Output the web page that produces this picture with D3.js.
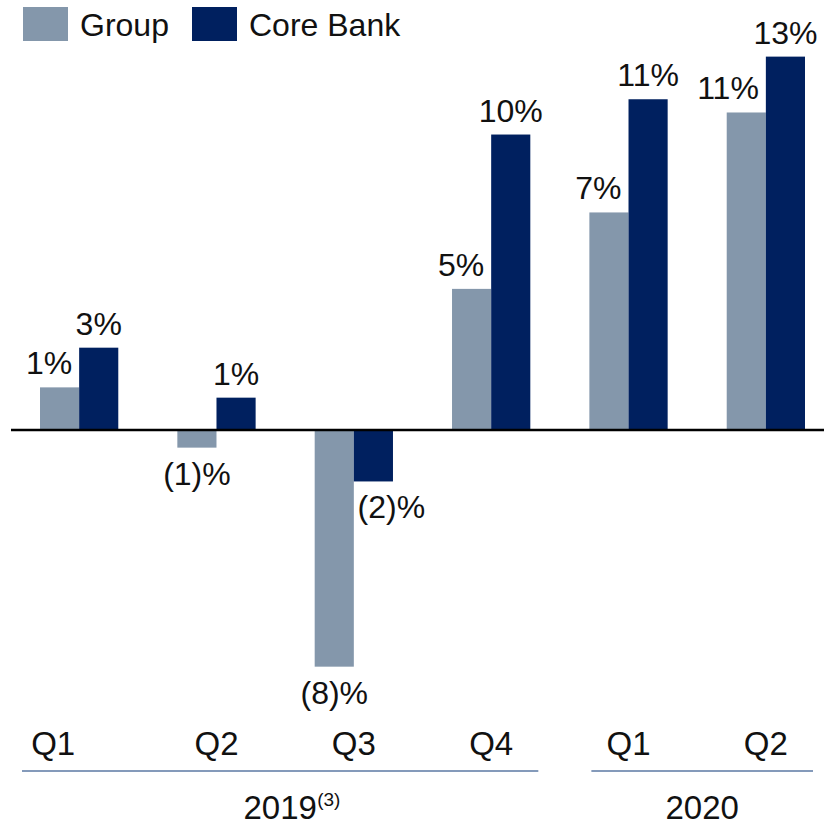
<!DOCTYPE html>
<html>
<head>
<meta charset="utf-8">
<script src="https://cdn.jsdelivr.net/npm/d3@7"></script>
<style>
    html, body { margin: 0; padding: 0; background: #fff; }
    svg { display: block; font-family: "Liberation Sans", Arial, sans-serif; }
</style>
</head>
<body>
<svg id="svg" width="824" height="826"></svg>
<script>
// data (percent)
const quarters = ['Q1', 'Q2', 'Q3', 'Q4', 'Q1', 'Q2'];
const years = [
    { label: '2019', note: '(3)', from: 0, to: 3 },
    { label: '2020', note: '', from: 4, to: 5 }
];
const seriesNames = ['Group', 'Core Bank'];
const groupValues = [1.45, -0.6, -8.05, 4.8, 7.4, 10.8];
const coreValues = [2.8, 1.1, -1.75, 10.05, 11.25, 12.7];
const groupLabels = ['1%', '(1)%', '(8)%', '5%', '7%', '11%'];
const coreLabels = ['3%', '1%', '(2)%', '10%', '11%', '13%'];

const colors = { 'Group': '#8497ab', 'Core Bank': '#00205f' };
const fontSize = 32;

const svg = d3.select('#svg');

const x0 = d3.scaleBand()
    .domain(d3.range(quarters.length))
    .range([40, 805])
    .paddingInner(0.43)
    .paddingOuter(0);

const x1 = d3.scaleBand()
    .domain(seriesNames)
    .range([0, x0.bandwidth()]);

// 0 sits at y=430
const y = d3.scaleLinear()
    .domain([-9, 14])
    .range([430 + 9 * 29.4, 430 - 14 * 29.4]);

const rows = quarters.map((q, i) => ({
    i,
    values: [
        { key: 'Group', v: groupValues[i], label: groupLabels[i] },
        { key: 'Core Bank', v: coreValues[i], label: coreLabels[i] }
    ]
}));

const g = svg.append('g');

const cat = g.selectAll('g.cat')
    .data(rows)
    .join('g')
    .attr('class', 'cat')
    .attr('transform', d => `translate(${x0(d.i)},0)`);

cat.selectAll('rect')
    .data(d => d.values)
    .join('rect')
    .attr('x', d => x1(d.key))
    .attr('width', x1.bandwidth())
    .attr('y', d => y(Math.max(0, d.v)))
    .attr('height', d => Math.abs(y(d.v) - y(0)))
    .attr('fill', d => colors[d.key]);

// value labels
cat.each(function (row) {
    const sel = d3.select(this);
    const gv = row.values[0], cv = row.values[1];
    row.values.forEach(d => {
        let xPos = x1(d.key) + x1.bandwidth() / 2;
        let anchor = 'middle';
        let yPos;
        if (d.v >= 0) {
            yPos = y(d.v) - 13;
            if (d.key === 'Group') {
                // sits left, next to the taller core bar
                xPos = x1(d.key) + x1.bandwidth() - 7;
                anchor = 'end';
            }
        } else {
            yPos = y(d.v) + 37;
            if (d.key === 'Core Bank' && gv.v < cv.v) xPos += 18;
        }
        sel.append('text')
            .attr('x', xPos)
            .attr('y', yPos)
            .attr('text-anchor', anchor)
            .attr('font-size', fontSize)
            .attr('fill', '#111')
            .text(d.label);
    });
});

// zero line
g.append('line')
    .attr('x1', 11)
    .attr('x2', 824)
    .attr('y1', y(0))
    .attr('y2', y(0))
    .attr('stroke', '#000')
    .attr('stroke-width', 2.5);

// quarter labels
g.selectAll('text.q')
    .data(quarters)
    .join('text')
    .attr('class', 'q')
    .attr('x', (d, i) => x0(i) + x0.bandwidth() / 2 - (i === 0 ? 26 : 0))
    .attr('y', 755)
    .attr('text-anchor', 'middle')
    .attr('font-size', 33)
    .attr('fill', '#111')
    .text(d => d);

// year brackets
const yearG = g.selectAll('g.year')
    .data(years)
    .join('g')
    .attr('class', 'year');

const yx1 = d => x0(d.from) + (d.from === 0 ? -18 : 2);
const yx2 = d => x0(d.to) + x0.bandwidth() + 8;

yearG.append('line')
    .attr('x1', yx1)
    .attr('x2', yx2)
    .attr('y1', 771)
    .attr('y2', 771)
    .attr('stroke', '#5b78a3')
    .attr('stroke-width', 1.5);

yearG.append('text')
    .attr('x', d => (yx1(d) + yx2(d)) / 2)
    .attr('y', 819)
    .attr('text-anchor', 'middle')
    .attr('font-size', 33)
    .attr('fill', '#111')
    .text(d => d.label);

yearG.filter(d => d.note)
    .append('text')
    .attr('x', d => (yx1(d) + yx2(d)) / 2 + 37)
    .attr('y', 806)
    .attr('font-size', 19)
    .attr('fill', '#111')
    .text(d => d.note);

// legend
const legend = svg.append('g').attr('class', 'legend');
const legendX = [23, 192];
seriesNames.forEach((name, i) => {
    legend.append('rect')
        .attr('x', legendX[i])
        .attr('y', 7)
        .attr('width', 45)
        .attr('height', 34)
        .attr('fill', colors[name]);
    legend.append('text')
        .attr('x', legendX[i] + 57)
        .attr('y', 36)
        .attr('font-size', fontSize)
        .attr('fill', '#111')
        .text(name);
});
</script>
</body>
</html>
